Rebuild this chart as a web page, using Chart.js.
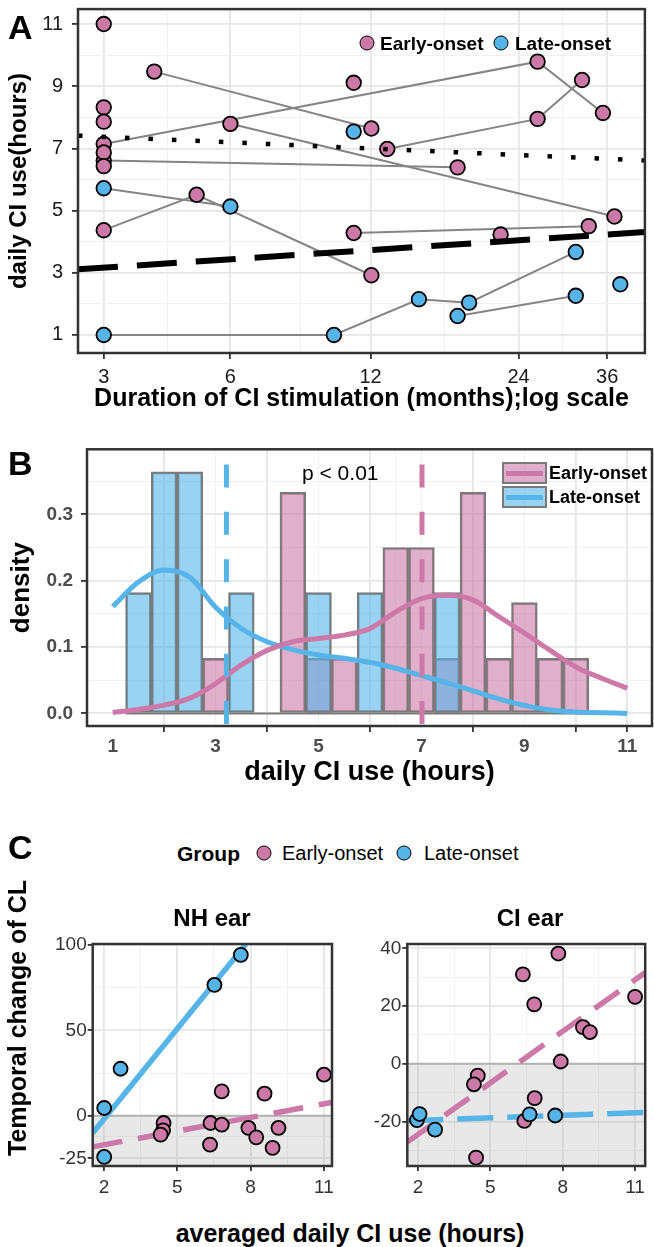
<!DOCTYPE html>
<html>
<head>
<meta charset="utf-8">
<script src="https://cdn.jsdelivr.net/npm/chart.js@4.4.1/dist/chart.umd.min.js"></script>
<style>
  body { margin: 0; background: #fff; width: 654px; height: 1247px; position: relative; overflow: hidden; font-family: "Liberation Sans", Arial, sans-serif; }
  canvas { position: absolute; }
  .t { position: absolute; white-space: nowrap; line-height: 1; color: #000; }
  .b { font-weight: bold; }
  .dot { position: absolute; width: 15px; height: 15px; border-radius: 50%; border: 1.8px solid #000; box-sizing: border-box; transform: translate(-50%, -50%); }
  .key { position: absolute; width: 45px; height: 22px; border: 2px solid #7a7a7a; box-sizing: border-box; }
  .key i { position: absolute; left: 2px; right: 2px; top: 7px; height: 5px; }
</style>
</head>
<body>
<canvas id="chartA" width="654" height="430" style="left:0;top:0"></canvas>
<canvas id="chartB" width="654" height="370" style="left:0;top:430px"></canvas>
<canvas id="chartNH" width="345" height="285" style="left:0;top:925px"></canvas>
<canvas id="chartCI" width="309" height="285" style="left:345px;top:925px"></canvas>

<!-- panel letters -->
<div class="t b" style="left:8px;top:10px;font-size:34px">A</div>
<div class="t b" style="left:8px;top:446px;font-size:34px">B</div>
<div class="t b" style="left:8px;top:830px;font-size:34px">C</div>

<!-- legend A -->
<div class="dot" style="left:367px;top:43px;background:#CC79A7"></div>
<div class="t b" style="left:380px;top:43px;font-size:19px;transform:translateY(-50%)">Early-onset</div>
<div class="dot" style="left:501px;top:43px;background:#56B4E9"></div>
<div class="t b" style="left:515px;top:43px;font-size:19px;transform:translateY(-50%)">Late-onset</div>

<!-- legend B + annotation -->
<div class="key" style="left:502px;top:462px;background:rgba(204,121,167,0.6)"><i style="background:#CC79A7"></i></div>
<div class="key" style="left:502px;top:486px;background:rgba(86,180,233,0.6)"><i style="background:#56B4E9"></i></div>
<div class="t b" style="left:549px;top:473px;font-size:18px;transform:translateY(-50%)">Early-onset</div>
<div class="t b" style="left:549px;top:497px;font-size:18px;transform:translateY(-50%)">Late-onset</div>
<div class="t" style="left:302px;top:472px;font-size:21px;transform:translateY(-50%)">p &lt; 0.01</div>

<!-- legend C and shared labels -->
<div class="t b" style="left:177px;top:853px;font-size:21px;transform:translateY(-50%)">Group</div>
<div class="dot" style="left:264px;top:853px;background:#CC79A7"></div>
<div class="t" style="left:282px;top:853px;font-size:20px;transform:translateY(-50%)">Early-onset</div>
<div class="dot" style="left:404px;top:853px;background:#56B4E9"></div>
<div class="t" style="left:424px;top:853px;font-size:20px;transform:translateY(-50%)">Late-onset</div>
<div class="t b" style="left:212px;top:918px;font-size:24px;transform:translate(-50%,-50%)">NH ear</div>
<div class="t b" style="left:530px;top:918px;font-size:24px;transform:translate(-50%,-50%)">CI ear</div>
<div class="t b" style="left:17px;top:1018px;font-size:25px;transform:translate(-50%,-50%) rotate(-90deg)">Temporal change of CL</div>
<div class="t b" style="left:350px;top:1233px;font-size:25px;transform:translate(-50%,-50%)">averaged daily CI use (hours)</div>

<script>
const PINK = '#CC79A7';
const BLUE = '#56B4E9';

// ---- Panel A: daily CI use over time (months, log scale) ----
const earlyMonths  = [3, 26.2, 35.3, 6, 37.2, 4, 12.05, 3, 18.1, 3, 5.03, 12.05, 11.07, 33.1, 13.0, 26.2, 32.1, 3, 3, 3, 3, 3, 11.07, 22.1];
const earlyHours   = [7.14, 9.79, 8.14, 7.79, 4.81, 9.47, 7.64, 6.61, 6.39, 4.37, 5.51, 2.92, 4.28, 4.50, 6.98, 7.95, 9.2, 11.0, 8.32, 7.86, 6.87, 6.43, 9.11, 4.23];
const earlySubject = [1, 1, 1, 2, 2, 3, 3, 4, 4, 5, 5, 5, 6, 6, 7, 7, 7, 8, 9, 10, 11, 12, 13, 14];
const lateMonths   = [3, 6, 3, 10.06, 15.1, 19.1, 31.2, 18.1, 31.2, 11.07, 38.2];
const lateHours    = [5.72, 5.13, 1.0, 1.0, 2.15, 2.04, 3.67, 1.61, 2.26, 7.54, 2.63];
const lateSubject  = [1, 1, 2, 2, 2, 2, 2, 3, 3, 4, 5];
const monthTicks   = [3, 6, 12, 24, 36];
const monthLimits  = [2.57, 42.7];
const hourTicksA   = [1, 3, 5, 7, 9, 11];
const earlyTrend   = [7.41, 6.61];   // at monthLimits
const lateTrend    = [3.11, 4.31];

// ---- Panel B: histogram + density ----
const earlyBinMid  = [3, 4.5, 5, 5.5, 6.5, 7, 7.5, 8, 8.5, 9, 9.5, 10];
const earlyBinDens = [0.083, 0.333, 0.083, 0.083, 0.25, 0.25, 0.083, 0.333, 0.083, 0.167, 0.083, 0.083];
const lateBinMid   = [1.5, 2, 2.5, 3.5, 5, 6, 7.5];
const lateBinDens  = [0.182, 0.364, 0.364, 0.182, 0.182, 0.182, 0.182];
const histRange    = [1.25, 10.25];
const densX        = [1, 1.5, 2, 2.5, 3, 3.5, 4, 4.5, 5, 5.5, 6, 6.5, 7, 7.5, 8, 8.5, 9, 9.5, 10, 10.5, 11];
const earlyDens    = [0.0015, 0.006, 0.0125, 0.023, 0.045, 0.073, 0.095, 0.108, 0.113, 0.118, 0.128, 0.153, 0.173, 0.178, 0.171, 0.146, 0.121, 0.095, 0.07, 0.053, 0.038];
const lateDens     = [0.161, 0.198, 0.216, 0.205, 0.16, 0.128, 0.108, 0.096, 0.088, 0.083, 0.077, 0.068, 0.057, 0.046, 0.034, 0.022, 0.012, 0.005, 0.002, 0.001, 0];
const earlyMean    = 7.01;
const lateMean     = 3.21;
const meanLineSpan = [0.375, -0.02];

// ---- Panel C: temporal change of CL vs averaged daily use ----
const nhEarlyX = [11, 6.82, 8.57, 4.44, 4.42, 4.32, 6.36, 6.82, 7.91, 8.23, 9.14, 6.34, 8.9];
const nhEarlyY = [24, 14.2, 12.9, -4.3, -8.6, -11.1, -4.3, -5.3, -7.2, -12.7, -7.2, -17, -18.9];
const nhLateX  = [2.01, 2.68, 6.52, 7.6, 2.01];
const nhLateY  = [4.5, 27.5, 76.6, 94.2, -24.2];
const nhEarlyFitX = [1.54, 11.33], nhEarlyFitY = [-18.3, 7.8];
const nhLateFitX  = [1.54, 7.81],  nhLateFitY  = [-10.1, 100.6];
const ciEarlyX = [7.82, 6.35, 6.82, 11, 8.84, 9.13, 7.92, 4.48, 4.32, 6.84, 6.41, 4.41];
const ciEarlyY = [38.2, 31.0, 20.6, 23.2, 12.7, 11.0, 0.8, -4.1, -7.1, -11.9, -19.8, -32.5];
const ciLateX  = [1.96, 2.07, 2.71, 6.63, 7.69];
const ciLateY  = [-19.5, -17.4, -22.8, -17.5, -17.9];
const ciEarlyFitX = [1.56, 11.42], ciEarlyFitY = [-27.1, 31.6];
const ciLateFitX  = [1.56, 11.42], ciLateFitY  = [-19.75, -16.8];
const useTicksC = [2, 5, 8, 11];

Chart.defaults.font.family = '"Liberation Sans", Arial, sans-serif';
Chart.defaults.animation = false;
Chart.defaults.plugins.legend.display = false;
Chart.defaults.plugins.tooltip.enabled = false;

// draws the full box round the plot area, like theme_bw
const panelBorder = {
    id: 'panelBorder',
    afterDraw(chart) {
        const { ctx, chartArea: a } = chart;
        ctx.save();
        ctx.strokeStyle = '#333';
        ctx.lineWidth = 2.5;
        ctx.strokeRect(a.left, a.top, a.right - a.left, a.bottom - a.top);
        ctx.restore();
    }
};

function midpoints(values) {
    const out = [];
    for (let i = 1; i < values.length; i++) out.push((values[i - 1] + values[i]) / 2);
    return out;
}

function zip(xs, ys) {
    return xs.map((x, i) => ({ x: x, y: ys[i] }));
}

function Axis(opt) {
    const minor = opt.minor || midpoints(opt.major);
    const isMinor = c => c.tick && c.tick.minor;
    return {
        type: 'linear',
        min: opt.min,
        max: opt.max,
        offset: false,
        afterBuildTicks: s => {
            s.ticks = opt.major.map(v => ({ value: v })).concat(minor.map(v => ({ value: v, minor: true })));
        },
        afterFit: s => {
            if (s.isHorizontal()) s.height = opt.size; else s.width = opt.size;
            s.paddingTop = s.paddingBottom = s.paddingLeft = s.paddingRight = 0;
        },
        grid: {
            color: c => isMinor(c) ? '#f1f1f1' : '#e6e6e6',
            lineWidth: c => isMinor(c) ? 1 : 1.8,
            tickColor: c => isMinor(c) ? 'rgba(0,0,0,0)' : '#333',
            tickWidth: 1.8,
            tickLength: opt.tickLength || 6
        },
        border: { display: false },
        ticks: {
            autoSkip: false,
            maxRotation: 0,
            padding: opt.pad,
            color: opt.color || '#1a1a1a',
            font: opt.font,
            callback: (v, i, t) => t[i].minor ? '' : (opt.label ? opt.label(v) : v)
        },
        title: opt.title ? { display: true, text: opt.title, color: '#000', font: opt.titleFont, padding: opt.titlePad } : { display: false }
    };
}

// ---------------- Panel A ----------------
function SubjectLines(months, hours, ids) {
    const groups = {};
    ids.forEach((id, i) => {
        (groups[id] = groups[id] || []).push({ x: Math.log(months[i] + 1), y: hours[i] });
    });
    return Object.values(groups).filter(g => g.length > 1).map(g => ({
        data: g, showLine: true, borderColor: '#858585', borderWidth: 2, pointRadius: 0, order: 3
    }));
}

const logMonths = m => Math.log(m + 1);
const logTicks = monthTicks.map(logMonths);
const pointStyle = { pointRadius: 7.3, borderColor: '#000', borderWidth: 1.8, order: 2 };

new Chart(document.getElementById('chartA'), {
    type: 'scatter',
    data: {
        datasets: [
            ...SubjectLines(earlyMonths, earlyHours, earlySubject),
            ...SubjectLines(lateMonths, lateHours, lateSubject),
            Object.assign({ data: zip(earlyMonths.map(logMonths), earlyHours), backgroundColor: PINK }, pointStyle),
            Object.assign({ data: zip(lateMonths.map(logMonths), lateHours), backgroundColor: BLUE }, pointStyle, { order: 1.5 }),
            { data: zip(monthLimits.map(logMonths), earlyTrend), showLine: true, borderColor: '#000', borderWidth: 4.5, borderDash: [4.5, 19], pointRadius: 0, order: 0 },
            { data: zip(monthLimits.map(logMonths), lateTrend), showLine: true, borderColor: '#000', borderWidth: 6, borderDash: [40, 19], pointRadius: 0, order: 0 }
        ]
    },
    options: {
        responsive: false,
        layout: { padding: { top: 8, right: 2, left: 0, bottom: 0 } },
        scales: {
            x: Axis({
                min: logMonths(monthLimits[0]), max: logMonths(monthLimits[1]),
                major: logTicks, size: 77, pad: 6,
                font: { size: 20 }, label: v => Math.round(Math.exp(v) - 1),
                title: 'Duration of CI stimulation (months);log scale',
                titleFont: { size: 25, weight: 'bold' }, titlePad: { top: 0, bottom: 16 }
            }),
            y: Axis({
                min: 0.42, max: 11.48, major: hourTicksA, size: 78, pad: 9,
                font: { size: 20 },
                title: 'daily CI use(hours)',
                titleFont: { size: 24, weight: 'bold' }, titlePad: { top: 5, bottom: 0 }
            })
        }
    },
    plugins: [panelBorder]
});

// ---------------- Panel B ----------------
const barStyle = { type: 'bar', grouped: false, barPercentage: 1, categoryPercentage: 1, borderColor: '#7a7a7a', borderWidth: 2, borderSkipped: false };

new Chart(document.getElementById('chartB'), {
    type: 'bar',
    data: {
        datasets: [
            { type: 'line', data: zip(histRange, [0, 0]), borderColor: '#7a7a7a', borderWidth: 2, pointRadius: 0, order: 9 },
            Object.assign({ data: zip(earlyBinMid, earlyBinDens), backgroundColor: 'rgba(204,121,167,0.6)', order: 8 }, barStyle),
            Object.assign({ data: zip(lateBinMid, lateBinDens), backgroundColor: 'rgba(86,180,233,0.6)', order: 7 }, barStyle),
            { type: 'line', data: zip(densX, lateDens), borderColor: BLUE, borderWidth: 5, pointRadius: 0, cubicInterpolationMode: 'monotone', order: 4 },
            { type: 'line', data: zip(densX, earlyDens), borderColor: PINK, borderWidth: 5, pointRadius: 0, cubicInterpolationMode: 'monotone', order: 3 },
            { type: 'line', data: zip([lateMean, lateMean], meanLineSpan), borderColor: BLUE, borderWidth: 5, borderDash: [23, 24.3], pointRadius: 0, order: 1 },
            { type: 'line', data: zip([earlyMean, earlyMean], meanLineSpan), borderColor: PINK, borderWidth: 5, borderDash: [23, 24.3], pointRadius: 0, order: 1 }
        ]
    },
    options: {
        responsive: false,
        layout: { padding: { top: 19.3, right: 2, left: 0, bottom: 0 } },
        scales: {
            x: Axis({
                min: 0.5, max: 11.48, major: [1, 3, 5, 7, 9, 11], size: 74, pad: 3,
                font: { size: 19, weight: 'bold' }, color: '#4d4d4d',
                title: 'daily CI use (hours)',
                titleFont: { size: 27, weight: 'bold' }, titlePad: { top: 0, bottom: 11 }
            }),
            y: Axis({
                min: -0.019, max: 0.398, major: [0, 0.1, 0.2, 0.3], minor: [0.05, 0.15, 0.25, 0.35],
                size: 87, pad: 8, font: { size: 19, weight: 'bold' }, color: '#4d4d4d',
                label: v => v.toFixed(1),
                title: 'density', titleFont: { size: 26, weight: 'bold' }, titlePad: { top: 6, bottom: 0 }
            })
        }
    },
    plugins: [panelBorder]
});

// ---------------- Panel C ----------------
function ScatterPanel(id, cfg) {
    const pts = { pointRadius: 7, borderColor: '#000', borderWidth: 1.8 };
    new Chart(document.getElementById(id), {
        type: 'scatter',
        data: {
            datasets: [
                { data: zip([cfg.xMin, cfg.xMax], [0, 0]), showLine: true, fill: 'start', backgroundColor: 'rgba(140,140,140,0.2)', borderColor: '#b3b3b3', borderWidth: 2, pointRadius: 0, order: 9 },
                { data: zip(cfg.earlyFitX, cfg.earlyFitY), showLine: true, borderColor: PINK, borderWidth: 5.5, borderDash: cfg.earlyDash, pointRadius: 0, order: 5 },
                { data: zip(cfg.lateFitX, cfg.lateFitY), showLine: true, borderColor: BLUE, borderWidth: 5.5, borderDash: cfg.lateDash, pointRadius: 0, order: 4 },
                Object.assign({ data: zip(cfg.earlyX, cfg.earlyY), backgroundColor: PINK, order: 2 }, pts),
                Object.assign({ data: zip(cfg.lateX, cfg.lateY), backgroundColor: BLUE, order: 1 }, pts)
            ]
        },
        options: {
            responsive: false,
            layout: { padding: { top: 19, right: cfg.padRight, left: 0, bottom: 0 } },
            scales: {
                x: Axis({ min: cfg.xMin, max: cfg.xMax, major: useTicksC, size: 44, pad: 5, tickLength: 5, font: { size: 19 }, color: '#333' }),
                y: Axis({ min: cfg.yMin, max: cfg.yMax, major: cfg.yTicks, minor: cfg.yMinor, size: cfg.yWidth, pad: 1, tickLength: 5, font: { size: 19 }, color: '#333' })
            }
        },
        plugins: [panelBorder]
    });
}

ScatterPanel('chartNH', {
    xMin: 1.54, xMax: 11.33, yMin: -29.5, yMax: 100.6,
    yTicks: [-25, 0, 50, 100], yMinor: [-12.5, 25, 75], yWidth: 92.7, padRight: 13,
    earlyX: nhEarlyX, earlyY: nhEarlyY, lateX: nhLateX, lateY: nhLateY,
    earlyFitX: nhEarlyFitX, earlyFitY: nhEarlyFitY, lateFitX: nhLateFitX, lateFitY: nhLateFitY,
    earlyDash: [30, 16], lateDash: []
});

ScatterPanel('chartCI', {
    xMin: 1.56, xMax: 11.42, yMin: -35.4, yMax: 41.5,
    yTicks: [-20, 0, 20, 40], yMinor: [-30, -10, 10, 30], yWidth: 62.3, padRight: 1.3,
    earlyX: ciEarlyX, earlyY: ciEarlyY, lateX: ciLateX, lateY: ciLateY,
    earlyFitX: ciEarlyFitX, earlyFitY: ciEarlyFitY, lateFitX: ciLateFitX, lateFitY: ciLateFitY,
    earlyDash: [30, 16], lateDash: [36, 14]
});
</script>
</body>
</html>
